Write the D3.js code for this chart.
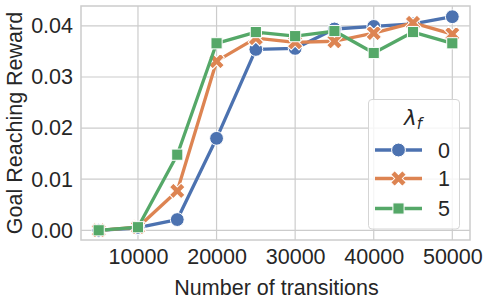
<!DOCTYPE html>
<html><head><meta charset="utf-8">
<script src="https://cdn.jsdelivr.net/npm/d3@7"></script>
<style>body{margin:0;background:#fff}svg{display:block}text{font-family:"Liberation Sans",Arial,sans-serif;fill:#262626}</style>
</head><body>
<svg id="c" width="489" height="299"></svg>
<script>
const transitions = [5000,10000,15000,20000,25000,30000,35000,40000,45000,50000];
const lambda0 = [0.0000,0.0005,0.0021,0.0180,0.0354,0.0356,0.0394,0.0399,0.0404,0.0418];
const lambda1 = [0.0000,0.0006,0.0077,0.0331,0.0376,0.0368,0.0370,0.0386,0.0406,0.0384];
const lambda5 = [0.0000,0.0006,0.0148,0.0366,0.0388,0.0380,0.0390,0.0347,0.0388,0.0366];
const seriesNames = ["0","1","5"];
const colors = ["#4C72B0","#DD8452","#55A868"];
const xTicks = [10000,20000,30000,40000,50000];
const yTicks = [0,0.01,0.02,0.03,0.04];

const FS = 21.5;
const svg = d3.select("#c");
const L=81,R=470,T=6,B=240;
const x = d3.scaleLinear().domain([2750,52250]).range([L,R]);
const y = d3.scaleLinear().domain([-0.0019,0.0439]).range([B,T]);
const grid = "#cccccc";

// grid
svg.append("g").selectAll("line").data(xTicks).join("line")
  .attr("x1",d=>x(d)).attr("x2",d=>x(d)).attr("y1",T).attr("y2",B)
  .attr("stroke",grid).attr("stroke-width",1.2);
svg.append("g").selectAll("line").data(yTicks).join("line")
  .attr("y1",d=>y(d)).attr("y2",d=>y(d)).attr("x1",L).attr("x2",R)
  .attr("stroke",grid).attr("stroke-width",1.2);
svg.append("rect").attr("x",L).attr("y",T).attr("width",R-L).attr("height",B-T)
  .attr("fill","none").attr("stroke",grid).attr("stroke-width",1.5);

// axes labels via d3 axes
const xa = svg.append("g").attr("transform",`translate(0,${B})`)
  .call(d3.axisBottom(x).tickValues(xTicks).tickFormat(d3.format("d")).tickSize(0).tickPadding(9));
const ya = svg.append("g").attr("transform",`translate(${L},0)`)
  .call(d3.axisLeft(y).tickValues(yTicks).tickFormat(d3.format(".2f")).tickSize(0).tickPadding(8));
[xa,ya].forEach(a=>{a.select(".domain").remove();a.selectAll("text").attr("font-size",FS).attr("fill","#262626").style("font-family","'Liberation Sans',Arial,sans-serif");});

svg.append("text").attr("x",(L+R)/2+1).attr("y",294.5).attr("text-anchor","middle").attr("font-size",FS).text("Number of transitions");
svg.append("text").attr("transform",`translate(21.5,${(T+B)/2}) rotate(-90)`).attr("text-anchor","middle").attr("font-size",FS).text("Goal Reaching Reward");

const all=[lambda0,lambda1,lambda5];
const markerPath = [
  d3.symbol(d3.symbolCircle,150)(),
  d3.symbol(d3.symbolCross,150)(),
  d3.symbol(d3.symbolSquare,125)()
];
const rot=[0,45,0];
const line = d3.line().x((d,i)=>x(transitions[i])).y(d=>y(d));
all.forEach((vals,k)=>{
  const g=svg.append("g");
  g.append("path").attr("d",line(vals)).attr("fill","none").attr("stroke",colors[k]).attr("stroke-width",3.3).attr("stroke-linejoin","round");
  g.selectAll("path.m").data(vals).join("path").attr("class","m")
    .attr("d",markerPath[k])
    .attr("transform",(d,i)=>`translate(${x(transitions[i])},${y(d)}) rotate(${rot[k]})`)
    .attr("fill",colors[k]).attr("stroke","#fff").attr("stroke-width",1);
});

// legend
const lg=svg.append("g");
lg.append("rect").attr("x",368.5).attr("y",99.5).attr("width",91).attr("height",129.5).attr("rx",3.5)
  .attr("fill","#fff").attr("fill-opacity",0.8).attr("stroke","#d5d5d5").attr("stroke-width",1);
const tt=lg.append("text").attr("x",413).attr("y",125).attr("text-anchor","middle").attr("font-size",FS);
tt.append("tspan").attr("font-style","italic").style("font-family","'DejaVu Sans',sans-serif").text("λ");
tt.append("tspan").attr("font-style","italic").attr("font-size",15).attr("dy",4).style("font-family","'DejaVu Sans',sans-serif").text("f");
const ey=[150,178.5,208.5];
seriesNames.forEach((n,k)=>{
  lg.append("line").attr("x1",375).attr("x2",422).attr("y1",ey[k]).attr("y2",ey[k]).attr("stroke",colors[k]).attr("stroke-width",3.3);
  lg.append("path").attr("d",markerPath[k]).attr("transform",`translate(398.5,${ey[k]}) rotate(${rot[k]})`).attr("fill",colors[k]).attr("stroke","#fff").attr("stroke-width",1);
  lg.append("text").attr("x",438).attr("y",ey[k]).attr("dy","0.35em").attr("font-size",FS).text(n);
});
</script>
</body></html>
